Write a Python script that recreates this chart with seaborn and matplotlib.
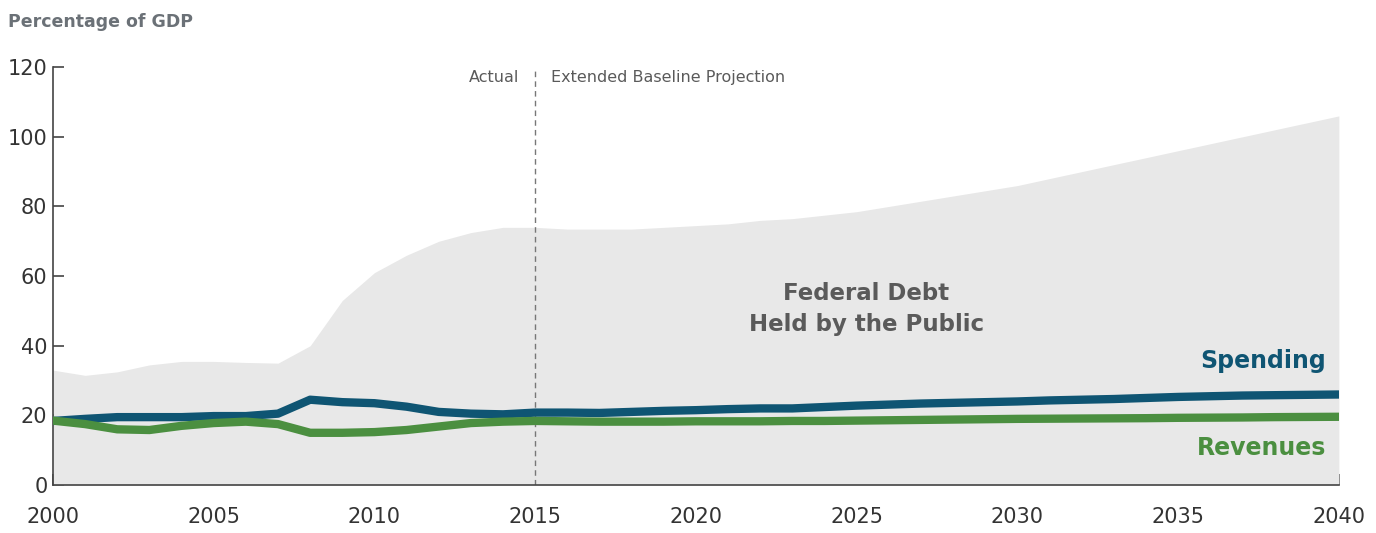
import pandas as pd
import numpy as np
import seaborn as sns
import matplotlib.pyplot as plt
from matplotlib import font_manager

# data (percentage of GDP)
years = list(range(2000, 2041))
debt = [33, 31.5, 32.5, 34.5, 35.5, 35.5, 35.2, 35, 40, 53,
        61, 66, 70, 72.5, 74, 74, 73.5, 73.5, 73.5, 74,
        74.5, 75, 76, 76.5, 77.5, 78.5, 80, 81.5, 83, 84.5,
        86, 88, 90, 92, 94, 96, 98, 100, 102, 104, 106]
spending = [18.4, 19, 19.5, 19.5, 19.5, 19.8, 19.8, 20.5, 24.5, 23.8,
            23.5, 22.5, 21, 20.5, 20.3, 20.8, 20.8, 20.7, 21, 21.3,
            21.5, 21.8, 22, 22, 22.4, 22.8, 23.1, 23.4, 23.6, 23.8,
            24, 24.3, 24.5, 24.7, 25, 25.3, 25.5, 25.7, 25.8, 25.9, 26]
revenues = [18.5, 17.5, 16, 15.8, 17, 17.8, 18.2, 17.5, 15, 15,
            15.2, 15.8, 16.8, 17.8, 18.2, 18.4, 18.3, 18.2, 18.2, 18.2,
            18.3, 18.3, 18.3, 18.4, 18.4, 18.5, 18.6, 18.7, 18.8, 18.9,
            19, 19.05, 19.1, 19.15, 19.2, 19.3, 19.35, 19.4, 19.5, 19.55, 19.6]

df = pd.DataFrame({"year": years, "debt": debt, "spending": spending, "revenues": revenues})

sns.set_style("ticks")
# narrow font if there is one, otherwise DejaVu Sans
names = {f.name for f in font_manager.fontManager.ttflist}
narrow = [n for n in ["Liberation Sans Narrow", "DejaVu Sans Condensed"] if n in names]
plt.rcParams['font.family'] = narrow + ['DejaVu Sans']

gray_txt = "#5a5a5a"
blue = "#0f5573"
green = "#4b8f40"

fig = plt.figure(figsize=(13.76, 5.33), dpi=100)
ax = fig.add_axes([0.0385, 0.090, 0.9345, 0.784])

ax.fill_between(df["year"], 0, df["debt"], color="#e8e8e8", linewidth=0, zorder=1)
sns.lineplot(data=df, x="year", y="spending", ax=ax, color=blue, linewidth=6, zorder=3)
sns.lineplot(data=df, x="year", y="revenues", ax=ax, color=green, linewidth=6, zorder=3)

ax.axvline(2015, ymax=1.0, color="#777777", linestyle=(0, (4, 3)), linewidth=1, zorder=2)

ax.set_xlim(2000, 2040)
ax.set_ylim(0, 120)
ax.set_xticks(range(2000, 2041, 5))
ax.set_yticks(range(0, 121, 20))
ax.set_xlabel("")
ax.set_ylabel("")
sns.despine(ax=ax)
for s in ["left", "bottom"]:
    ax.spines[s].set_color("#444444")
    ax.spines[s].set_linewidth(1.2)
ax.tick_params(axis="both", direction="in", length=8, width=1.2, color="#444444",
               labelsize=17 if narrow else 15, labelcolor="#333333")
ax.tick_params(axis="x", pad=16)
ax.tick_params(axis="y", pad=4)

fig.text(0.006, 0.958, "Percentage of GDP", fontsize=12.5, color="#6b7177", fontweight="bold",
         va="center", ha="left")
ax.text(2014.5, 117, "Actual", fontsize=11.5, color=gray_txt, ha="right", va="center")
ax.text(2015.5, 117, "Extended Baseline Projection", fontsize=11.5, color=gray_txt,
        ha="left", va="center")
ax.text(2025.3, 50.5, "Federal Debt\nHeld by the Public", fontsize=16.5, color=gray_txt,
        fontweight="bold", ha="center", va="center", family=["DejaVu Sans"],
        linespacing=1.45)
ax.text(2039.6, 35.5, "Spending", fontsize=17, color=blue, fontweight="bold",
        ha="right", va="center", family=["DejaVu Sans"])
ax.text(2039.6, 10.5, "Revenues", fontsize=17, color=green, fontweight="bold",
        ha="right", va="center", family=["DejaVu Sans"])

fig.savefig("out.png", dpi=100)
